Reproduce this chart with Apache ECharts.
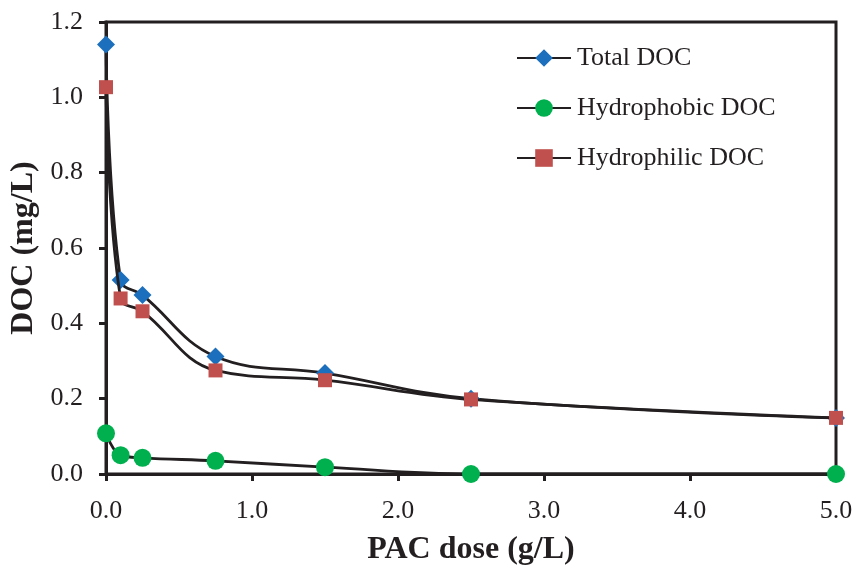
<!DOCTYPE html>
<html>
<head>
<meta charset="utf-8">
<script src="https://cdn.jsdelivr.net/npm/echarts@6/dist/echarts.min.js"></script>
<style>
  html, body { margin: 0; padding: 0; background: #fff; }
  #chart { width: 853px; height: 565px; }
</style>
</head>
<body>
<div id="chart"></div>
<script>
// PAC dose (g/L)
const doses = [0, 0.1, 0.25, 0.75, 1.5, 2.5, 5.0];
// DOC fractions (mg/L)
const totalDOC       = [1.14, 0.515, 0.475, 0.312, 0.268, 0.200, 0.149];
const hydrophobicDOC = [0.108, 0.050, 0.043, 0.035, 0.018, 0.000, 0.000];
const hydrophilicDOC = [1.027, 0.466, 0.432, 0.275, 0.249, 0.198, 0.149];

const seriesNames = ['Total DOC', 'Hydrophobic DOC', 'Hydrophilic DOC'];
const xTicks = [0, 1, 2, 3, 4, 5];
const yTicks = [0, 0.2, 0.4, 0.6, 0.8, 1.0, 1.2];

const font = 'Liberation Serif, Times New Roman, serif';
const ink = '#231f20';
const pairs = ys => doses.map((d, i) => [d, ys[i]]);

const chart = echarts.init(document.getElementById('chart'));
chart.setOption({
  animation: false,
  backgroundColor: '#fff',
  grid: {
    left: 106, top: 22, right: 17, bottom: 91,
    outerBoundsMode: 'none',
    containLabel: false,
    show: true, borderColor: ink, borderWidth: 3
  },
  legend: {
    orient: 'vertical',
    left: 511, top: 40,
    itemGap: 24,
    itemWidth: 54, itemHeight: 22,
    textStyle: { fontFamily: font, fontSize: 26, color: ink, padding: [0, 0, 0, 1] },
    data: seriesNames
  },
  xAxis: {
    type: 'value',
    min: xTicks[0], max: xTicks[xTicks.length - 1], interval: 1,
    name: 'PAC dose (g/L)',
    nameLocation: 'middle', nameGap: 60,
    nameTextStyle: { fontFamily: font, fontSize: 32, fontWeight: 'bold', color: ink },
    axisLine: { onZero: false, lineStyle: { color: ink, width: 3 } },
    axisTick: { show: true, length: 7, lineStyle: { color: ink, width: 3 } },
    axisLabel: { fontFamily: font, fontSize: 26, color: ink, margin: 24,
                 formatter: v => v.toFixed(1) },
    splitLine: { show: false }
  },
  yAxis: {
    type: 'value',
    min: yTicks[0], max: yTicks[yTicks.length - 1], interval: 0.2,
    name: 'DOC (mg/L)',
    nameLocation: 'middle', nameGap: 58,
    nameTextStyle: { fontFamily: font, fontSize: 32, fontWeight: 'bold', color: ink },
    axisLine: { onZero: false, lineStyle: { color: ink, width: 3 } },
    axisTick: { show: true, length: 7, lineStyle: { color: ink, width: 3 } },
    axisLabel: { fontFamily: font, fontSize: 26, color: ink, margin: 23,
                 formatter: v => v.toFixed(1) },
    splitLine: { show: false }
  },
  series: [
    {
      name: seriesNames[0], type: 'line', data: pairs(totalDOC),
      smooth: 0.4, symbol: 'diamond', symbolSize: 18,
      lineStyle: { color: ink, width: 2.8 },
      itemStyle: { color: '#1b6fbd' }, z: 3
    },
    {
      name: seriesNames[1], type: 'line', data: pairs(hydrophobicDOC),
      smooth: 0.4, symbol: 'circle', symbolSize: 18,
      lineStyle: { color: ink, width: 2.8 },
      itemStyle: { color: '#00b04f' }, z: 4
    },
    {
      name: seriesNames[2], type: 'line', data: pairs(hydrophilicDOC),
      smooth: 0.4, symbol: 'rect', symbolSize: 14,
      lineStyle: { color: ink, width: 2.8 },
      itemStyle: { color: '#c0504d' }, z: 5
    }
  ]
});
</script>
</body>
</html>
